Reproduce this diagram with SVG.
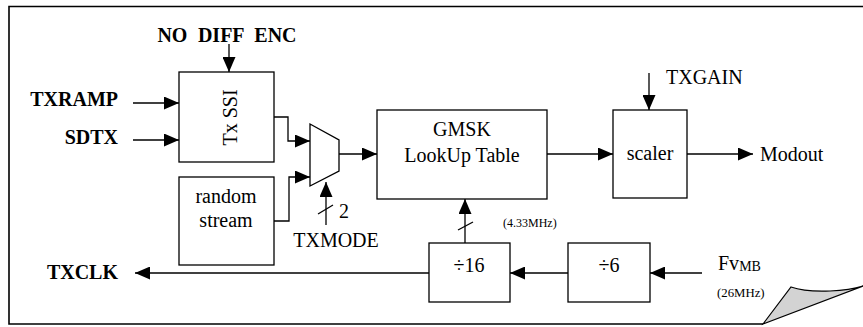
<svg xmlns="http://www.w3.org/2000/svg" width="863" height="327" viewBox="0 0 863 327" font-family="'Liberation Serif', serif">
<style>
text{font-family:'Liberation Serif','DejaVu Serif',serif;fill:#000}
.b{font-weight:bold;font-size:20px}
.r{font-size:20px;font-weight:normal}
.s{font-size:12px}
.box{fill:#fff;stroke:#000;stroke-width:1.3}
.w{fill:none;stroke:#000;stroke-width:1.3}
.a{fill:none;stroke:#000;stroke-width:1.3;marker-end:url(#ah)}
</style>
<defs>
<marker id="ah" markerUnits="userSpaceOnUse" markerWidth="16" markerHeight="13" refX="15" refY="6.5" orient="auto">
<path d="M0,0 L15,6.5 L0,13 z" fill="#000"/>
</marker>
</defs>
<g id="frame">
<path d="M863,6.5 H9 V324 H763" fill="none" stroke="#000" stroke-width="1.6"/>
<path d="M763,324 L791,287 Q805,292 830,291 Q850,290 863,286 Z" fill="#d3d3d3" stroke="#000" stroke-width="1.2"/>
</g>
<g id="connectors">
<path class="a" d="M229,44 V72"/>
<path class="a" d="M133,103 H179"/>
<path class="a" d="M133,140 H179"/>
<path class="a" d="M274,117 H288 V141 H310"/>
<path class="a" d="M274,221 H289 V177 H310"/>
<path class="a" d="M339,154 H377"/>
<path class="a" d="M326,225 V182"/>
<path class="w" d="M318,214 L333,205"/>
<path class="a" d="M547,154 H613"/>
<path class="a" d="M649,73 V110"/>
<path class="a" d="M687,154 H753"/>
<path class="a" d="M465,243 V199"/>
<path class="w" d="M458,230 L473,222"/>
<path class="a" d="M568,273 H510"/>
<path class="a" d="M702,273 H650"/>
<path class="a" d="M429,273 H135"/>
</g>
<g id="labels" font-family="'Liberation Serif', serif">
<text class="b" x="227" y="42" text-anchor="middle" word-spacing="5.5">NO DIFF ENC</text>
<text class="b" x="118" y="106" text-anchor="end">TXRAMP</text>
<text class="b" x="118" y="144" text-anchor="end">SDTX</text>
<text class="b" x="118" y="279" text-anchor="end">TXCLK</text>
<text class="r" x="339" y="218">2</text>
<text class="r" x="336" y="247" text-anchor="middle">TXMODE</text>
<text class="r" x="666" y="84">TXGAIN</text>
<text class="r" x="760" y="161">Modout</text>
<text class="s" x="503" y="227">(4.33MHz)</text>
<text class="r" x="718" y="270">Fv<tspan font-size="14" dy="1">MB</tspan></text>
<text x="717" y="297" font-size="12.8">(26MHz)</text>
</g>
<g id="txssi">
<rect class="box" x="179" y="72" width="95" height="90"/>
<text class="r" transform="translate(237,117.5) rotate(-90)" text-anchor="middle">Tx SSI</text>
</g>
<g id="random">
<rect class="box" x="179" y="177" width="95" height="88"/>
<text class="r" x="226" y="203" text-anchor="middle">random</text>
<text class="r" x="226" y="227" text-anchor="middle">stream</text>
</g>
<g id="mux">
<polygon class="box" points="310,124 339,140 339,171 310,186"/>
</g>
<g id="gmsk">
<rect class="box" x="377" y="110" width="170" height="89"/>
<text class="r" x="462" y="136" text-anchor="middle">GMSK</text>
<text class="r" x="462" y="162" text-anchor="middle">LookUp Table</text>
</g>
<g id="scaler">
<rect class="box" x="613" y="110" width="74" height="88"/>
<text class="r" x="650" y="160" text-anchor="middle">scaler</text>
</g>
<g id="div16">
<rect class="box" x="429" y="243" width="81" height="59"/>
<text class="r" x="469" y="272" text-anchor="middle">÷16</text>
</g>
<g id="div6">
<rect class="box" x="568" y="243" width="82" height="59"/>
<text class="r" x="609" y="272" text-anchor="middle">÷6</text>
</g>
</svg>
